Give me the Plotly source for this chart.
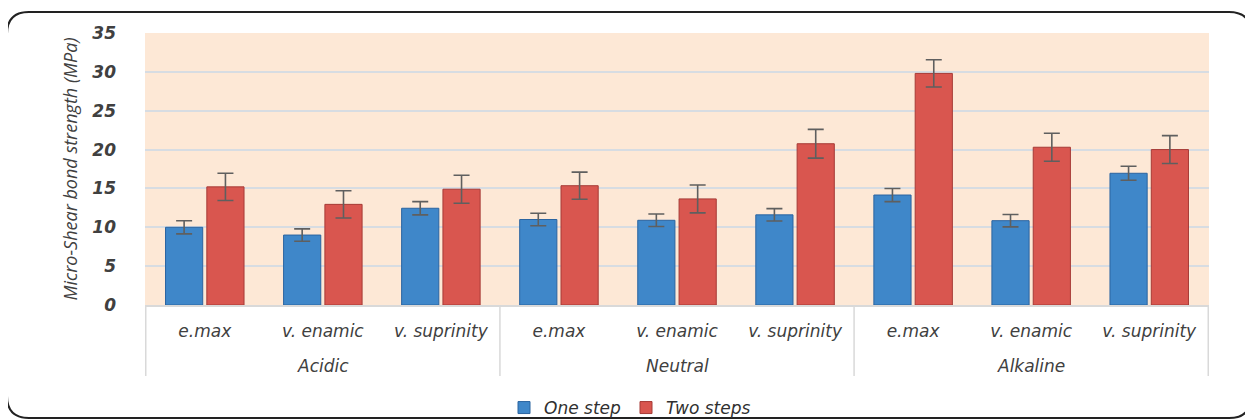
import plotly.graph_objects as go

groups = ["Acidic", "Neutral", "Alkaline"]
materials = ["e.max", "v. enamic", "v. suprinity"]

one_step = [10.0, 9.0, 12.45, 11.0, 10.9, 11.6, 14.15, 10.85, 16.95]
one_step_err = [0.85, 0.8, 0.85, 0.8, 0.8, 0.8, 0.85, 0.8, 0.9]
two_steps = [15.2, 12.95, 14.9, 15.35, 13.65, 20.75, 29.8, 20.3, 20.0]
two_steps_err = [1.75, 1.75, 1.8, 1.75, 1.8, 1.85, 1.75, 1.8, 1.8]

y_ticks = [0, 5, 10, 15, 20, 25, 30, 35]

# unique category keys, labelled with the material name
keys = [f"{g}|{m}" for g in groups for m in materials]
labels = [m for g in groups for m in materials]

FW, FH = 1245, 412          # page has an 8px body margin
L, R, T, B = 137, 1201, 25, 297
W, H = R - L, B - T
def px(x):
    return (x - L) / W
def py(y):
    return (B - y) / H

fig = go.Figure()
fig.add_trace(go.Bar(
    name="One step", x=keys, y=one_step,
    marker=dict(color="#3f87c9", line=dict(color="#2b64a0", width=1)),
    error_y=dict(type="data", array=one_step_err, color="#5f5f5f", thickness=1.6, width=8),
))
fig.add_trace(go.Bar(
    name="Two steps", x=keys, y=two_steps,
    marker=dict(color="#d9564f", line=dict(color="#a63a36", width=1)),
    error_y=dict(type="data", array=two_steps_err, color="#5f5f5f", thickness=1.6, width=8),
))

cat_font = dict(family="DejaVu Sans", size=17, style="italic", color="#404040")

n = len(materials)
annotations = []
shapes = []
for gi, g in enumerate(groups):
    annotations.append(dict(
        text=g, x=gi * n + (n - 1) / 2, xref="x", y=0, yref="paper",
        yshift=-61, yanchor="middle", xanchor="center", showarrow=False, font=cat_font,
    ))
for k in range(len(groups) + 1):
    xb = k * n - 0.5
    shapes.append(dict(type="line", xref="x", yref="paper", x0=xb, x1=xb,
                       y0=0, y1=-71 / H, line=dict(color="#d9d9d9", width=1.5)))

x0, x1, y0, y1, r = -1, 1243, 4, 410, 22
path = (
    f"M {px(x0 + r)} {py(y0)} L {px(x1 - r)} {py(y0)} "
    f"Q {px(x1)} {py(y0)} {px(x1)} {py(y0 + r)} "
    f"L {px(x1)} {py(y1 - r)} Q {px(x1)} {py(y1)} {px(x1 - r)} {py(y1)} "
    f"L {px(x0 + r)} {py(y1)} Q {px(x0)} {py(y1)} {px(x0)} {py(y1 - r)} "
    f"L {px(x0)} {py(y0 + r)} Q {px(x0)} {py(y0)} {px(x0 + r)} {py(y0)} Z"
)
shapes.append(dict(type="path", xref="paper", yref="paper", path=path,
                   line=dict(color="#222222", width=2), fillcolor="rgba(0,0,0,0)", layer="below"))

fig.update_layout(
    width=FW, height=FH,
    margin=dict(l=L, r=FW - R, t=T, b=FH - B, autoexpand=False),
    paper_bgcolor="white",
    plot_bgcolor="#fde8d6",
    barmode="group",
    bargap=0.3,
    bargroupgap=0.1,
    showlegend=True,
    legend=dict(orientation="h", xref="container", yref="container",
                x=(630 - 8) / FW, xanchor="center", y=1 - 400 / FH, yanchor="middle",
                bgcolor="rgba(0,0,0,0)",
                font=dict(family="DejaVu Sans", size=17, style="italic", color="#303030"),
                itemwidth=30, traceorder="normal"),
    annotations=annotations,
    shapes=shapes,
    xaxis=dict(
        type="category",
        tickvals=keys, ticktext=labels,
        tickfont=cat_font,
        showline=True, linecolor="#d9d9d9", linewidth=1.5,
        ticks="", showgrid=False, ticklabelstandoff=10,
    ),
    yaxis=dict(
        range=[0, 35], tickvals=y_ticks,
        tickfont=dict(family="DejaVu Sans", size=17, style="italic", weight="bold", color="#404040"),
        showgrid=True, gridcolor="#d7dce2", gridwidth=1.5,
        zeroline=False, ticks="", ticklabelstandoff=28,
        title=dict(text="Micro-Shear bond strength (MPa)", standoff=10,
                   font=dict(family="Open Sans", size=18, style="italic", color="#404040")),
    ),
)

fig.write_html("out.html")
